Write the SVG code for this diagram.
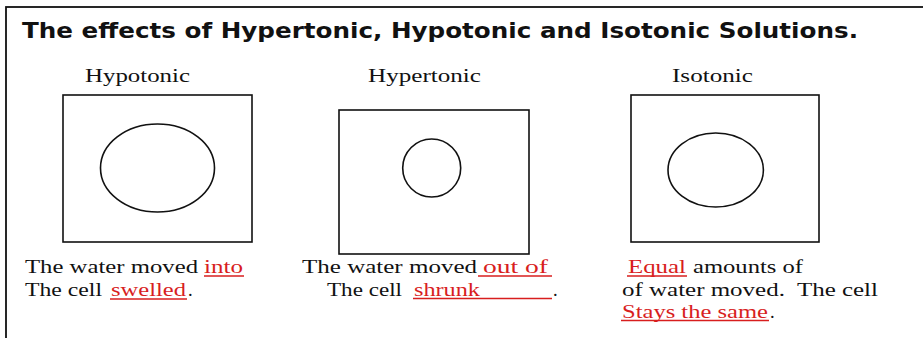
<svg xmlns="http://www.w3.org/2000/svg" width="923" height="338" viewBox="0 0 923 338">
<style>
.t{font-family:"Liberation Serif","Times New Roman",serif;font-size:18.5px;fill:#111}
.r{fill:#d81e1e}
.ttl{font-family:"DejaVu Sans","Liberation Sans",sans-serif;font-weight:bold;font-size:22px;fill:#111}
.box{fill:none;stroke:#111;stroke-width:1.6}
.cell{fill:none;stroke:#111;stroke-width:1.6}
.ul{stroke:#d81e1e;stroke-width:1.3}
</style>
<rect width="923" height="338" fill="#fff"/>
<rect x="6" y="7" width="1000" height="400" fill="none" stroke="#111" stroke-width="1.8"/>
<text class="ttl" x="22" y="37.5" textLength="836" lengthAdjust="spacingAndGlyphs">The effects of Hypertonic, Hypotonic and Isotonic Solutions.</text>

<g id="hypotonic">
<text class="t" x="85" y="82" textLength="105" lengthAdjust="spacingAndGlyphs">Hypotonic</text>
<rect class="box" x="63" y="95" width="189" height="147"/>
<ellipse class="cell" cx="157.5" cy="168" rx="57" ry="44"/>
<text class="t" x="25" y="273" textLength="173" lengthAdjust="spacingAndGlyphs">The water moved</text>
<text class="t r" x="204" y="273" textLength="39" lengthAdjust="spacingAndGlyphs">into</text>
<line class="ul" x1="204" y1="276" x2="244" y2="276"/>
<text class="t" x="25" y="295.5" textLength="77" lengthAdjust="spacingAndGlyphs">The cell</text>
<text class="t r" x="111" y="295.5" textLength="75" lengthAdjust="spacingAndGlyphs">swelled</text>
<line class="ul" x1="110" y1="299" x2="187" y2="299"/>
<text class="t" x="188" y="295.5">.</text>
</g>

<g id="hypertonic">
<text class="t" x="368" y="82" textLength="113" lengthAdjust="spacingAndGlyphs">Hypertonic</text>
<rect class="box" x="339" y="110" width="190" height="144"/>
<circle class="cell" cx="431.7" cy="168" r="29"/>
<text class="t" x="302" y="273" textLength="175" lengthAdjust="spacingAndGlyphs">The water moved</text>
<text class="t r" x="483" y="273" textLength="65" lengthAdjust="spacingAndGlyphs">out of</text>
<line class="ul" x1="478" y1="276" x2="552" y2="276"/>
<text class="t" x="327" y="295.5" textLength="75" lengthAdjust="spacingAndGlyphs">The cell</text>
<text class="t r" x="414" y="295.5" textLength="66" lengthAdjust="spacingAndGlyphs">shrunk</text>
<line class="ul" x1="413" y1="298.5" x2="552" y2="298.5"/>
<text class="t" x="553" y="295.5">.</text>
</g>

<g id="isotonic">
<text class="t" x="672" y="82" textLength="81" lengthAdjust="spacingAndGlyphs">Isotonic</text>
<rect class="box" x="631" y="95" width="188" height="147"/>
<ellipse class="cell" cx="715.7" cy="170" rx="47.7" ry="37"/>
<text class="t r" x="628" y="273" textLength="58" lengthAdjust="spacingAndGlyphs">Equal</text>
<line class="ul" x1="627" y1="276" x2="687" y2="276"/>
<text class="t" x="693" y="273" textLength="110" lengthAdjust="spacingAndGlyphs">amounts of</text>
<text class="t" x="622" y="295.5" textLength="256" lengthAdjust="spacingAndGlyphs">of water moved.&#160; The cell</text>
<text class="t r" x="622" y="317.5" textLength="146" lengthAdjust="spacingAndGlyphs">Stays the same</text>
<line class="ul" x1="621" y1="320.5" x2="769" y2="320.5"/>
<text class="t" x="770" y="317.5">.</text>
</g>
</svg>
